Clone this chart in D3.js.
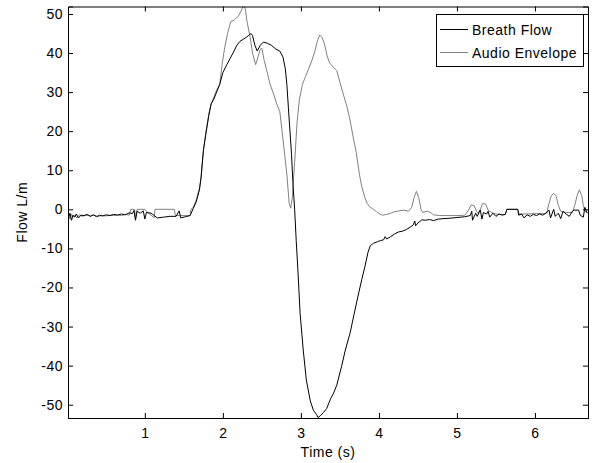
<!DOCTYPE html>
<html>
<head>
<meta charset="utf-8">
<script src="https://cdn.jsdelivr.net/npm/d3@7"></script>
<style>
  body { margin: 0; background: #fff; }
  text { font-family: "Liberation Sans", Arial, sans-serif; font-size: 14px; letter-spacing: 0.5px; fill: #000; }
</style>
</head>
<body>
<div id="chart"></div>
<script>
// series values: [time (s), flow (L/m)]
const breathFlow = [
  [0.02,-2.5],[0.04,-1.0],[0.06,-2.8],[0.08,-1.5],[0.10,-2.0],[0.12,-1.2],[0.15,-2.2],[0.18,-1.5],
  [0.22,-1.6],[0.26,-1.3],[0.30,-1.8],[0.34,-1.4],[0.38,-1.9],[0.42,-1.5],[0.46,-1.7],[0.50,-1.4],
  [0.55,-1.6],[0.60,-1.3],[0.65,-1.5],[0.70,-1.2],[0.75,-1.4],[0.80,-0.9],[0.84,-1.1],[0.86,-0.3],
  [0.88,-2.8],[0.90,-0.5],[0.94,-1.0],[0.98,-0.4],[1.00,-2.5],[1.02,-0.8],[1.08,-1.0],[1.12,-1.6],
  [1.16,-2.2],[1.24,-2.0],[1.32,-1.8],[1.40,-1.8],[1.44,-0.4],[1.46,-2.2],[1.52,-1.9],[1.58,-1.6],
  [1.62,0.2],[1.66,2.0],[1.70,5.0],[1.72,8.0],[1.75,15],[1.78,19],[1.82,24],[1.85,27],[1.88,28],
  [1.92,30],[1.96,32],[2.00,35],[2.05,37],[2.09,38.5],[2.13,40],[2.18,42],[2.22,43],[2.26,43.5],
  [2.30,44],[2.33,44.5],[2.36,45],[2.38,44.5],[2.41,42],[2.44,40.5],[2.48,42],[2.52,42.8],[2.57,42.5],
  [2.62,42],[2.68,41],[2.73,40.5],[2.77,39],[2.80,36],[2.82,32],[2.84,26],[2.86,20],[2.88,14],
  [2.90,6],[2.92,0],[2.94,-8],[2.96,-15],[2.99,-26.6],[3.03,-36],[3.07,-43.7],[3.12,-49],[3.16,-51.4],
  [3.20,-52.5],[3.22,-53.3],[3.25,-52.8],[3.29,-52],[3.33,-51],[3.38,-48.5],[3.42,-47],[3.46,-45],
  [3.52,-40.3],[3.57,-36],[3.63,-31.7],[3.68,-27],[3.73,-22.4],[3.78,-18],[3.82,-14.7],[3.86,-11],
  [3.89,-9.3],[3.93,-8.7],[3.98,-8.3],[4.02,-8.0],[4.06,-7.8],[4.08,-7.0],[4.10,-7.6],[4.15,-7.0],
  [4.20,-6.3],[4.25,-5.8],[4.30,-5.6],[4.35,-5.2],[4.40,-4.6],[4.44,-4.0],[4.46,-3.0],[4.47,-4.2],
  [4.50,-3.5],[4.55,-2.7],[4.60,-2.8],[4.65,-2.6],[4.70,-2.9],[4.76,-2.5],[4.82,-2.4],[4.90,-2.3],
  [5.00,-2.1],[5.10,-1.9],[5.17,-1.6],[5.19,-0.5],[5.20,-2.8],[5.24,-1.0],[5.26,-1.8],[5.30,-0.2],
  [5.32,-2.5],[5.34,-0.8],[5.38,-1.2],[5.40,-0.5],[5.42,-2.0],[5.46,-1.0],[5.50,-1.8],[5.54,-1.2],
  [5.58,-1.5],[5.62,-1.3],[5.64,0],[5.78,0],[5.79,-1.5],[5.83,-1.2],[5.86,-2.2],[5.90,-1.4],
  [5.94,-1.8],[5.98,-1.3],[6.02,-1.6],[6.06,-1.2],[6.10,-1.5],[6.14,-1.0],[6.18,-0.2],[6.20,-2.2],
  [6.24,0],[6.26,-1.8],[6.30,-1.0],[6.33,-2.4],[6.36,-0.5],[6.40,-1.2],[6.44,-1.8],[6.48,-0.5],
  [6.50,-0.2],[6.56,-0.2],[6.58,-1.5],[6.62,-2.0],[6.64,0.5],[6.67,-1.0]
];

const audioEnvelope = [
  [0.02,-1.8],[0.04,-2.5],[0.06,-1.2],[0.08,-2.0],[0.10,-1.6],[0.13,-2.2],[0.16,-1.4],[0.20,-1.8],
  [0.25,-1.5],[0.30,-1.7],[0.35,-1.5],[0.40,-1.8],[0.45,-1.6],[0.50,-1.7],[0.55,-1.5],[0.60,-1.6],
  [0.65,-1.4],[0.70,-1.6],[0.75,-1.3],[0.80,-1.5],[0.82,0],[0.87,0],[0.88,-2.4],[0.90,0],
  [1.00,0],[1.02,-0.5],[1.12,-2.2],[1.13,0],[1.38,0],[1.39,-1.6],[1.58,-1.6],[1.59,0],
  [1.62,0.5],[1.66,2.5],[1.70,5.5],[1.72,8],[1.75,15],[1.78,19.5],
  [1.82,24.5],[1.85,27],[1.88,28.5],[1.92,30.5],[1.96,32],[1.99,37],[2.02,41],[2.06,45],[2.10,48],
  [2.15,48.5],[2.20,49.5],[2.24,51],[2.27,52.5],[2.29,51],[2.31,48],[2.35,44],[2.38,40],[2.42,37],
  [2.45,39],[2.48,41],[2.50,41.2],[2.53,38],[2.57,35],[2.60,32.3],[2.65,29.5],[2.69,27],[2.73,25],
  [2.77,18],[2.82,9],[2.85,1.5],[2.87,0.3],[2.89,3],[2.92,12],[2.95,22],[2.98,28],[3.02,32],
  [3.06,34],[3.10,36],[3.14,38],[3.18,40.5],[3.21,43],[3.24,44.6],[3.27,44],[3.30,42.5],[3.34,39],
  [3.37,37.4],[3.42,36.3],[3.46,35.5],[3.50,32.5],[3.55,29],[3.59,26.3],[3.63,22.8],[3.67,18.5],
  [3.71,14.5],[3.75,9],[3.78,5.8],[3.82,3],[3.85,1.5],[3.88,0.7],[3.93,0],[3.97,-0.6],[4.01,-1.2],
  [4.05,-1.5],[4.10,-1.3],[4.15,-1.0],[4.20,-0.6],[4.26,-0.4],[4.32,-0.2],[4.38,-0.5],[4.42,0.5],
  [4.45,3],[4.48,4.6],[4.51,3],[4.54,0],[4.56,-0.8],[4.62,-0.5],[4.66,-0.8],[4.70,-1.4],[4.78,-1.6],
  [4.90,-1.6],[5.00,-1.6],[5.10,-1.5],[5.14,-0.5],[5.18,1.1],[5.22,1.0],[5.25,-0.5],[5.27,-1.0],
  [5.30,0],[5.33,1.5],[5.37,1.3],[5.40,-0.2],[5.44,-0.8],[5.50,-1.2],[5.56,-1.3],[5.62,-1.3],
  [5.64,0],[5.78,0],[5.80,-1.2],[5.90,-1.2],[6.00,-1.1],[6.10,-1.1],[6.15,-1.0],[6.18,1.5],
  [6.21,3.5],[6.24,4.1],[6.27,3.5],[6.30,1.0],[6.33,-0.5],[6.40,-0.8],[6.48,-0.8],[6.51,1.0],
  [6.54,3.5],[6.57,5.0],[6.60,3.5],[6.62,1.0],[6.64,-0.5],[6.67,-0.8]
];

const seriesNames = ["Breath Flow", "Audio Envelope"];
const seriesColors = ["#000000", "#808080"];
const xTicks = [1, 2, 3, 4, 5, 6];
const yTicks = [-50, -40, -30, -20, -10, 0, 10, 20, 30, 40, 50];

let width = 592;
let height = 463;
let margin = { top: 6.5, right: 4, bottom: 45, left: 68 };
let plotW = width - margin.left - margin.right;
let plotH = height - margin.top - margin.bottom;

var svg = d3
    .select("#chart")
    .append("svg")
    .attr("width", width)
    .attr("height", height);

let x = d3.scaleLinear().domain([0.015, 6.68]).range([0, plotW]);
let y = d3.scaleLinear().domain([-53.4, 51.9]).range([plotH, 0]);

let g = svg.append("g")
    .attr("transform", "translate(" + margin.left + "," + margin.top + ")");

g.append("clipPath").attr("id", "clip")
  .append("rect").attr("width", plotW).attr("height", plotH);

let line = d3.line()
    .x(function (d) { return x(d[0]); })
    .y(function (d) { return y(d[1]); });

// draw the two traces, audio first so flow sits on top
[audioEnvelope, breathFlow].forEach(function (data, i) {
  let idx = 1 - i;
  g.append("path")
    .datum(data)
    .attr("clip-path", "url(#clip)")
    .attr("fill", "none")
    .attr("stroke", seriesColors[idx])
    .attr("stroke-width", 1)
    .attr("d", line);
});

// axes, matlab style: ticks inside, box all round
g.append("g")
  .attr("transform", "translate(0," + plotH + ")")
  .call(d3.axisBottom(x).tickValues(xTicks).tickSize(-5).tickPadding(10).tickFormat(d3.format("d")));
g.append("g")
  .call(d3.axisTop(x).tickValues(xTicks).tickSize(-5).tickFormat(""));
g.append("g")
  .call(d3.axisLeft(y).tickValues(yTicks).tickSize(-5).tickPadding(5).tickFormat(function (d) { return String(d); }));
g.append("g")
  .attr("transform", "translate(" + plotW + ",0)")
  .call(d3.axisRight(y).tickValues(yTicks).tickSize(-5).tickFormat(""));

g.selectAll(".domain").attr("stroke", "#000");
g.selectAll(".tick line").attr("stroke", "#000");
g.selectAll(".tick text").attr("font-size", null).attr("font-family", null);

// axis labels
svg.append("text")
  .attr("x", margin.left + plotW / 2)
  .attr("y", 457)
  .attr("text-anchor", "middle")
  .text("Time (s)");

svg.append("text")
  .attr("transform", "translate(26.5," + (margin.top + plotH / 2) + ") rotate(-90)")
  .attr("text-anchor", "middle")
  .text("Flow L/m");

// legend
let legend = svg.append("g").attr("transform", "translate(436,14)");
legend.append("rect")
  .attr("x", 0.5).attr("y", 0.5)
  .attr("width", 147).attr("height", 52)
  .attr("fill", "#fff").attr("stroke", "#000");
seriesNames.forEach(function (name, i) {
  let ly = 15.5 + i * 23;
  legend.append("line")
    .attr("x1", 4).attr("x2", 32)
    .attr("y1", ly).attr("y2", ly)
    .attr("stroke", seriesColors[i]);
  legend.append("text")
    .attr("x", 36).attr("y", ly + 5)
    .text(name);
});
</script>
</body>
</html>
